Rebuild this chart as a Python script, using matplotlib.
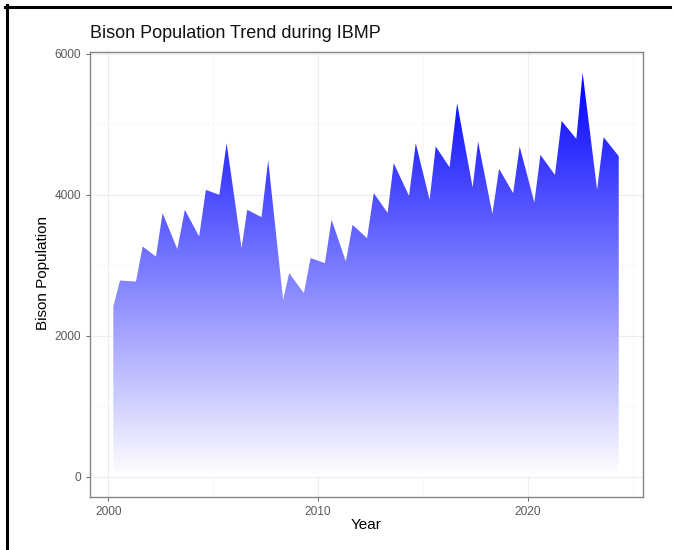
import numpy as np
import matplotlib
matplotlib.use('Agg')
import matplotlib.pyplot as plt
from matplotlib.colors import LinearSegmentedColormap
from matplotlib.patches import PathPatch
from matplotlib.lines import Line2D

# bison counts, two per year (late winter / summer)
years = [2000.24, 2000.56, 2001.32, 2001.64, 2002.27, 2002.59, 2003.29, 2003.65,
         2004.33, 2004.65, 2005.29, 2005.64, 2006.35, 2006.62, 2007.30, 2007.62,
         2008.33, 2008.62, 2009.32, 2009.64, 2010.32, 2010.64, 2011.32, 2011.64,
         2012.33, 2012.65, 2013.31, 2013.60, 2014.33, 2014.65, 2015.31, 2015.60,
         2016.26, 2016.62, 2017.36, 2017.62, 2018.30, 2018.62, 2019.29, 2019.60,
         2020.30, 2020.59, 2021.28, 2021.60, 2022.30, 2022.60, 2023.29, 2023.60,
         2024.32]
population = [2414, 2782, 2768, 3264, 3122, 3737, 3227, 3784,
              3406, 4067, 3997, 4729, 3241, 3784, 3681, 4483,
              2508, 2887, 2603, 3100, 3029, 3642, 3051, 3571,
              3383, 4021, 3741, 4446, 3982, 4729, 3926, 4684,
              4386, 5296, 4103, 4752, 3727, 4365, 4021, 4681,
              3890, 4563, 4280, 5045, 4790, 5726, 4067, 4814,
              4545]

x_ticks = [2000, 2010, 2020]
y_ticks = [0, 2000, 4000, 6000]

plt.rcParams['font.family'] = ['Liberation Sans', 'DejaVu Sans']

fig = plt.figure(figsize=(6.75, 5.5), dpi=100)
ax = fig.add_axes([90/675, 53/550, 553.3/675, 445/550])

# area outline used as clip for the gradient
area = ax.fill_between(years, population, 0, facecolor='none', edgecolor='none')
clip = PathPatch(area.get_paths()[0], transform=ax.transData,
                 facecolor='none', edgecolor='none')
ax.add_patch(clip)

cmap = LinearSegmentedColormap.from_list('bison', ['white', 'blue'])
grad = np.linspace(0, 1, 256).reshape(-1, 1)
img = ax.imshow(grad, cmap=cmap, origin='lower', aspect='auto',
                extent=[min(years), max(years), 0, max(population)], zorder=2)
img.set_clip_path(clip)

ax.set_xlim(1999.13, 2025.49)
ax.set_ylim(-287, 6022)
ax.set_xticks(x_ticks)
ax.set_yticks(y_ticks)
ax.set_xticks([2005, 2015, 2025], minor=True)
ax.set_yticks([1000, 3000, 5000], minor=True)

ax.set_axisbelow(True)
ax.grid(which='major', color='#ededed', lw=0.8)
ax.grid(which='minor', color='#f5f5f5', lw=0.5)
for s in ax.spines.values():
    s.set_color('#858585')
    s.set_linewidth(1.0)
ax.tick_params(which='major', length=3, width=0.7, color='#666666',
               labelsize=8.6, labelcolor='#5a5a5a', pad=3.5)
ax.tick_params(which='minor', length=0)

fig.text(90/675, 1 - 38/550, 'Bison Population Trend during IBMP',
         fontsize=13, color='#111111', va='baseline', ha='left')
fig.text(366/675, 1 - 525/550, 'Year', fontsize=11, ha='center', va='center')
fig.text(43/675, 1 - 273/550, 'Bison Population', fontsize=11,
         rotation=90, ha='center', va='center')

# black frame along top and left edge
fig.add_artist(Line2D([5/675, 670/675], [1 - 6.5/550, 1 - 6.5/550],
                      transform=fig.transFigure, color='black', lw=2.2))
fig.add_artist(Line2D([6.5/675, 6.5/675], [1 - 5/550, 0],
                      transform=fig.transFigure, color='black', lw=2.2))

fig.savefig('out.png', dpi=100)
